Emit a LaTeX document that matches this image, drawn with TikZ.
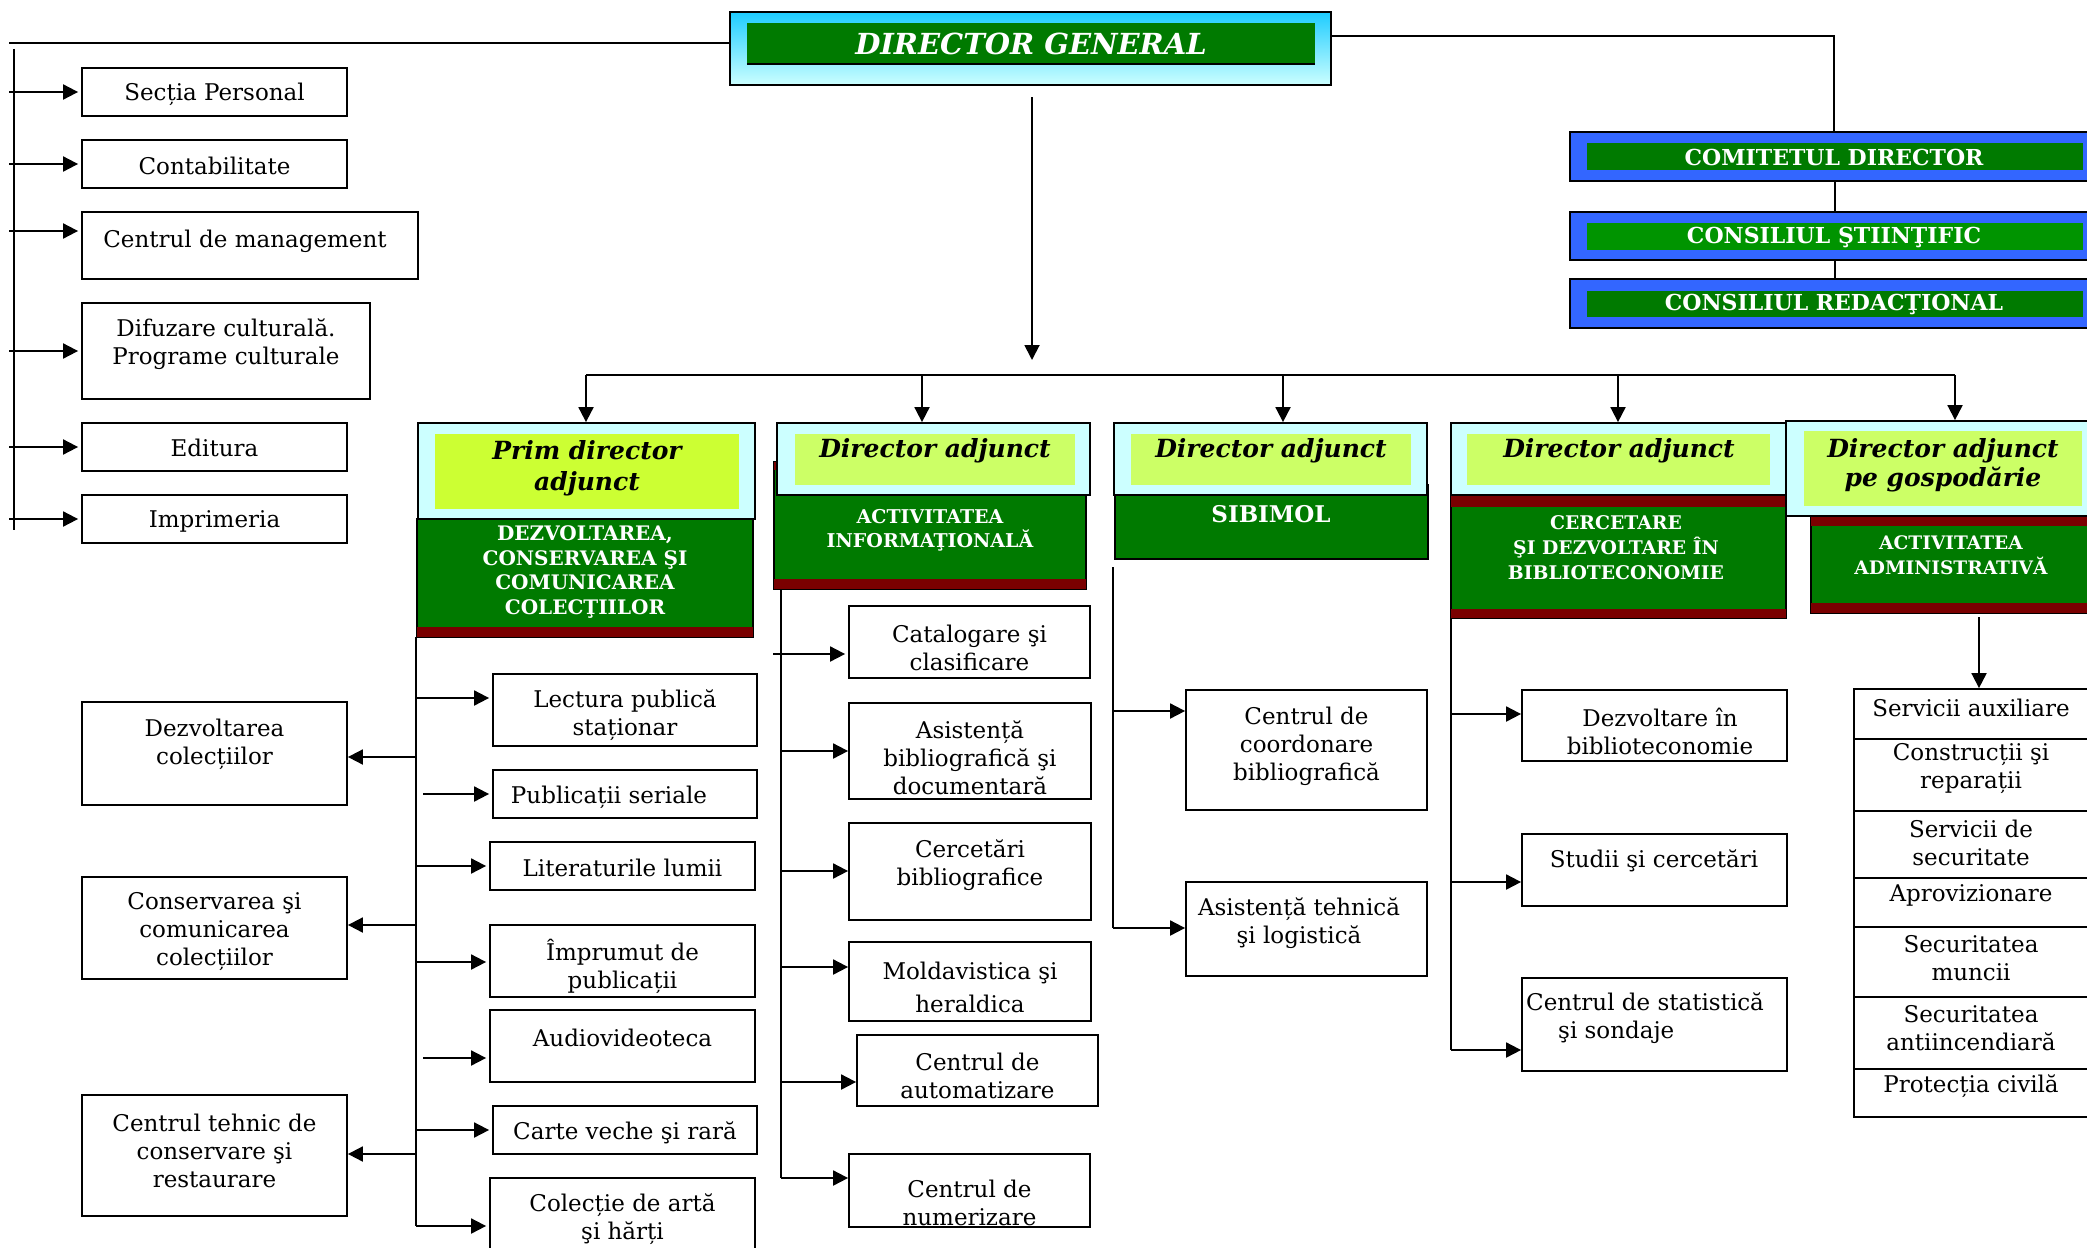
\documentclass[tikz,border=0pt]{standalone}
\usepackage{fontspec}
\setmainfont{DejaVu Serif}
\usetikzlibrary{arrows.meta,calc}
\definecolor{dgreen}{HTML}{007A00}
\definecolor{sgreen}{HTML}{009400}
\definecolor{dred}{HTML}{7A0000}
\definecolor{lcyan}{HTML}{CCFFFF}
\definecolor{dcyan}{HTML}{1ECCFF}
\definecolor{limeb}{HTML}{CCFF66}
\definecolor{limey}{HTML}{CCFF33}
\definecolor{cblue}{HTML}{3366FF}
\tikzset{
  bx/.style={draw=black, line width=1.8pt, fill=white, inner sep=0pt},
  cyanbox/.style={draw=black, line width=1.8pt, fill=lcyan, inner sep=0pt},
  limebox/.style={fill=limeb, inner sep=0pt},
  ylimebox/.style={fill=limey, inner sep=0pt},
  greenbox/.style={draw=black, line width=1.8pt, fill=dgreen, inner sep=0pt},
  bluebox/.style={draw=black, line width=1.8pt, fill=cblue, inner sep=0pt},
  innergreen/.style={fill=dgreen, inner sep=0pt},
  innersgreen/.style={fill=sgreen, inner sep=0pt},
  dgbox/.style={draw=black, line width=1.8pt, top color=dcyan, bottom color=lcyan, inner sep=0pt},
  txt/.style={inner sep=0pt, align=center, font=\fontsize{23}{28}\selectfont},
  htxt/.style={inner sep=0pt, align=center, font=\fontsize{25}{31}\selectfont\bfseries\itshape},
  wtxt/.style={inner sep=0pt, align=center, text=white, font=\fontsize{20}{24.7}\selectfont\bfseries},
  ctxt/.style={inner sep=0pt, align=center, text=white, font=\fontsize{22}{26}\selectfont\bfseries},
  ln/.style={line width=1.9pt},
  arr/.style={line width=1.9pt, -{Triangle[length=15pt,width=15pt]}, shorten >=3pt},
}
\newcommand\mkbox[6]{\node[#1, minimum width={#5-#3}, minimum height={#6-#4}] (#2) at ({(#3+#5)/2},{(#4+#6)/2}) {};}
\begin{document}
\begin{tikzpicture}[x=1pt,y=-1pt]
\useasboundingbox (0,0) rectangle (2087,1247);
\fill[white] (0,0) rectangle (2087,1247);
\begin{scope}
\clip (0,0) rectangle (2087,1247);

% ---------- Director general ----------
\mkbox{dgbox}{dg}{730}{12}{1331}{85}
\mkbox{innergreen}{dgi}{747}{23}{1315}{64}
\draw[line width=2pt] (dgi.south west) -- (dgi.south east);
\node[inner sep=0pt, text=white, font=\fontsize{29}{34}\selectfont\bfseries\itshape] (dgT) at (1031,44) {DIRECTOR GENERAL};

% ---------- Councils ----------
\mkbox{bluebox}{cd}{1570}{132}{2100}{181}
\mkbox{innergreen}{cdi}{1587}{143}{2083}{170}
\node[ctxt] (cdT) at (1834,157) {COMITETUL DIRECTOR};
\mkbox{bluebox}{cs}{1570}{212}{2100}{260}
\mkbox{innersgreen}{csi}{1587}{223}{2083}{250}
\node[ctxt] (csT) at (1834,237) {CONSILIUL ŞTIINŢIFIC};
\mkbox{bluebox}{cr}{1570}{279}{2100}{328}
\mkbox{innergreen}{cri}{1587}{291}{2083}{317}
\node[ctxt] (crT) at (1834,304) {CONSILIUL REDACŢIONAL};

\coordinate (rt) at (1834,36);
\draw[ln] (dg.east |- rt) -- (rt) -- (rt |- cd.north);
\draw[ln] (cd.south) -- (cs.north);
\draw[ln] (cs.south) -- (cr.north);

% ---------- Left staff column ----------
\mkbox{bx}{sp}{82}{68}{347}{116}
\node[txt] (spT) at (214.5,94) {Secția Personal};
\mkbox{bx}{cont}{82}{140}{347}{188}
\node[txt] (contT) at (214.5,166) {Contabilitate};
\mkbox{bx}{cman}{82}{212}{418}{279}
\node[txt] (cmanT) at (245,241) {Centrul de management};
\mkbox{bx}{dif}{82}{303}{370}{399}
\node[txt] (difT) at (226,344) {Difuzare culturală.\\Programe culturale};
\mkbox{bx}{edit}{82}{423}{347}{471}
\node[txt] (editT) at (214.5,448) {Editura};
\mkbox{bx}{impr}{82}{495}{347}{543}
\node[txt] (imprT) at (214.5,521) {Imprimeria};

\coordinate (lt) at (9,43);
\draw[ln] (lt) -- (dg.west |- lt);
\coordinate (lv1) at (14,49);
\coordinate (lv2) at (14,530);
\draw[ln] (lv1) -- (lv2);
\draw[arr] (lt |- sp.west) -- (sp.west);
\draw[arr] (lt |- cont.west) -- (cont.west);
\draw[arr] (lt |- 0,231) -- (cman.west |- 0,231);
\draw[arr] (lt |- dif.west) -- (dif.west);
\draw[arr] (lt |- edit.west) -- (edit.west);
\draw[arr] (lt |- impr.west) -- (impr.west);

% ---------- Green department boxes (behind) ----------
\mkbox{greenbox}{g1}{417}{519}{753}{637}
\fill[dred] ([xshift=0.9pt,yshift=0.9pt]g1.south west) rectangle ([xshift=-0.9pt,yshift=11pt]g1.south east);
\node[wtxt] (g1T) at (585,572) {DEZVOLTAREA,\\CONSERVAREA ŞI\\COMUNICAREA\\COLECŢIILOR};

\mkbox{greenbox}{g2}{774}{462}{1086}{589}
\fill[dred] ([xshift=0.9pt,yshift=0.9pt]g2.south west) rectangle ([xshift=-0.9pt,yshift=11pt]g2.south east);
\fill[dred] ([xshift=0.9pt,yshift=-0.9pt]g2.north west) rectangle ([xshift=-0.9pt,yshift=-9pt]g2.north east);
\node[wtxt, font=\fontsize{19}{24}\selectfont\bfseries] (g2T) at (930,530) {ACTIVITATEA\\INFORMAŢIONALĂ};

\mkbox{greenbox}{g3}{1115}{485}{1428}{559}
\node[wtxt, font=\fontsize{23}{27}\selectfont\bfseries] (g3T) at (1271,514) {SIBIMOL};

\mkbox{greenbox}{g4}{1451}{495}{1786}{618}
\fill[dred] ([xshift=0.9pt,yshift=0.9pt]g4.south west) rectangle ([xshift=-0.9pt,yshift=10pt]g4.south east);
\fill[dred] ([xshift=0.9pt,yshift=-0.9pt]g4.north west) rectangle ([xshift=-0.9pt,yshift=-13pt]g4.north east);
\node[wtxt, font=\fontsize{18.8}{25}\selectfont\bfseries] (g4T) at (1616,548) {CERCETARE\\ŞI DEZVOLTARE ÎN\\BIBLIOTECONOMIE};

\mkbox{greenbox}{g5}{1811}{516}{2100}{613}
\fill[dred] ([xshift=0.9pt,yshift=0.9pt]g5.south west) rectangle ([xshift=-0.9pt,yshift=11pt]g5.south east);
\fill[dred] ([xshift=0.9pt,yshift=-0.9pt]g5.north west) rectangle ([xshift=-0.9pt,yshift=-11pt]g5.north east);
\node[wtxt, font=\fontsize{18.6}{25}\selectfont\bfseries] (g5T) at (1951,555) {ACTIVITATEA\\ADMINISTRATIVĂ};

% ---------- Deputy director boxes ----------
\mkbox{cyanbox}{pda}{418}{423}{755}{519}
\mkbox{ylimebox}{pdai}{435}{434}{739}{509}
\node[htxt] (pdaT) at (587,468) {Prim director\\adjunct};

\mkbox{cyanbox}{da2}{777}{423}{1090}{495}
\mkbox{limebox}{da2i}{795}{434}{1075}{485}
\node[htxt] (da2T) at (935,451) {Director adjunct};

\mkbox{cyanbox}{da3}{1114}{423}{1427}{495}
\mkbox{limebox}{da3i}{1131}{434}{1411}{485}
\node[htxt] (da3T) at (1271,451) {Director adjunct};

\mkbox{cyanbox}{da4}{1451}{423}{1786}{495}
\mkbox{limebox}{da4i}{1467}{434}{1770}{485}
\node[htxt] (da4T) at (1619,451) {Director adjunct};

\mkbox{cyanbox}{da5}{1786}{421}{2100}{516}
\mkbox{limebox}{da5i}{1804}{431}{2082}{506}
\node[htxt, font=\fontsize{25}{29}\selectfont\bfseries\itshape] (da5T) at (1943,465) {Director adjunct\\pe gospodărie};

% ---------- DG to deputies ----------
\coordinate (dd1) at (1032,97);
\coordinate (dd2) at (1032,363);
\draw[arr] (dd1) -- (dd2);
\coordinate (b1) at (586,375);
\coordinate (b2) at (922,375);
\coordinate (b3) at (1283,375);
\coordinate (b4) at (1618,375);
\coordinate (b5) at (1955,375);
\draw[ln] (b1) -- (b5);
\draw[arr, shorten >=0pt] (b1) -- (b1 |- pda.north);
\draw[arr, shorten >=0pt] (b2) -- (b2 |- da2.north);
\draw[arr, shorten >=0pt] (b3) -- (b3 |- da3.north);
\draw[arr, shorten >=0pt] (b4) -- (b4 |- da4.north);
\draw[arr, shorten >=0pt] (b5) -- (b5 |- da5.north);

% ---------- Column 1 ----------
\mkbox{bx}{dezv}{82}{702}{347}{805}
\node[txt] (dezvT) at (214.5,744) {Dezvoltarea\\colecțiilor};
\mkbox{bx}{cons}{82}{877}{347}{979}
\node[txt] (consT) at (214.5,932) {Conservarea şi\\comunicarea\\colecțiilor};
\mkbox{bx}{ctr}{82}{1095}{347}{1216}
\node[txt] (ctrT) at (214.5,1151) {Centrul tehnic de\\conservare şi\\restaurare};

\mkbox{bx}{lect}{493}{674}{757}{746}
\node[txt] (lectT) at (625,715) {Lectura publică\\staționar};
\mkbox{bx}{pser}{493}{770}{757}{818}
\node[txt] (pserT) at (609,797) {Publicații seriale};
\mkbox{bx}{lit}{490}{842}{755}{890}
\node[txt] (litT) at (622.5,868) {Literaturile lumii};
\mkbox{bx}{impm}{490}{925}{755}{997}
\node[txt] (impmT) at (622.5,966) {Împrumut de\\publicații};
\mkbox{bx}{audio}{490}{1010}{755}{1082}
\node[txt] (audioT) at (622.5,1038) {Audiovideoteca};
\mkbox{bx}{carte}{493}{1106}{757}{1154}
\node[txt] (carteT) at (625,1133) {Carte veche şi rară};
\mkbox{bx}{colec}{490}{1178}{755}{1275}
\node[txt] (colecT) at (622.5,1219) {Colecție de artă\\şi hărți};

\coordinate (c1t) at (416,637);
\coordinate (c1b) at (416,1226);
\coordinate (c1s) at (423,0);
\draw[ln] (c1t) -- (c1b);
\draw[arr] (c1t |- 0,698) -- (lect.west |- 0,698);
\draw[arr] (c1s |- 0,794) -- (pser.west |- 0,794);
\draw[arr] (c1t |- 0,866) -- (lit.west |- 0,866);
\draw[arr] (c1t |- 0,962) -- (impm.west |- 0,962);
\draw[arr] (c1s |- 0,1058) -- (audio.west |- 0,1058);
\draw[arr] (c1t |- 0,1130) -- (carte.west |- 0,1130);
\draw[arr] (c1b) -- (colec.west |- c1b);
\draw[arr, shorten >=0pt] (c1t |- 0,757) -- (dezv.east |- 0,757);
\draw[arr, shorten >=0pt] (c1t |- 0,925) -- (cons.east |- 0,925);
\draw[arr, shorten >=0pt] (c1t |- 0,1154) -- (ctr.east |- 0,1154);

% ---------- Column 2 ----------
\mkbox{bx}{cat}{849}{606}{1090}{678}
\node[txt] (catT) at (969.5,648) {Catalogare şi\\clasificare};
\mkbox{bx}{asis}{849}{703}{1091}{799}
\node[txt] (asisT) at (970,758) {Asistență\\bibliografică şi\\documentară};
\mkbox{bx}{cerc}{849}{823}{1091}{920}
\node[txt] (cercT) at (970,865) {Cercetări\\bibliografice};
\mkbox{bx}{mold}{849}{942}{1091}{1021}
\node[txt] (moldT) at (970,987) {Moldavistica şi\\[5pt]heraldica};
\mkbox{bx}{auto}{857}{1035}{1098}{1106}
\node[txt] (autoT) at (977.5,1076) {Centrul de\\automatizare};
\mkbox{bx}{num}{849}{1154}{1090}{1227}
\node[txt] (numT) at (969.5,1203) {Centrul de\\numerizare};

\coordinate (c2t) at (781,589);
\coordinate (c2b) at (781,1178);
\coordinate (c2s) at (773,0);
\draw[ln] (c2t) -- (c2b);
\draw[arr] (c2s |- 0,654) -- (cat.west |- 0,654);
\draw[arr, shorten >=0pt] (c2t |- 0,751) -- (asis.west |- 0,751);
\draw[arr, shorten >=0pt] (c2t |- 0,871) -- (cerc.west |- 0,871);
\draw[arr, shorten >=0pt] (c2t |- 0,967) -- (mold.west |- 0,967);
\draw[arr, shorten >=0pt] (c2t |- 0,1082) -- (auto.west |- 0,1082);
\draw[arr, shorten >=0pt] (c2b) -- (num.west |- c2b);

% ---------- Column 3 ----------
\mkbox{bx}{coord}{1186}{690}{1427}{810}
\node[txt] (coordT) at (1306.5,746) {Centrul de\\coordonare\\bibliografică};
\mkbox{bx}{tehn}{1186}{882}{1427}{976}
\node[txt] (tehnT) at (1299,923) {Asistență tehnică\\şi logistică};

\coordinate (c3t) at (1113,567);
\coordinate (c3b) at (1113,928);
\draw[ln] (c3t) -- (c3b);
\draw[arr, shorten >=0pt] (c3t |- 0,711) -- (coord.west |- 0,711);
\draw[arr, shorten >=0pt] (c3b) -- (tehn.west |- c3b);

% ---------- Column 4 ----------
\mkbox{bx}{dzb}{1522}{690}{1787}{761}
\node[txt] (dzbT) at (1660,731) {Dezvoltare în\\biblioteconomie};
\mkbox{bx}{stud}{1522}{834}{1787}{906}
\node[txt] (studT) at (1654,861) {Studii şi cercetări};
\mkbox{bx}{stat}{1522}{978}{1787}{1071}
\node[txt, align=left, anchor=west] (statT) at (1526,1018) {Centrul de statistică\\\hspace*{32pt}şi sondaje};

\coordinate (c4t) at (1451,618);
\coordinate (c4b) at (1451,1050);
\draw[ln] (c4t) -- (c4b);
\draw[arr, shorten >=0pt] (c4t |- 0,714) -- (dzb.west |- 0,714);
\draw[arr, shorten >=0pt] (c4t |- 0,882) -- (stud.west |- 0,882);
\draw[arr, shorten >=0pt] (c4b) -- (stat.west |- c4b);

% ---------- Column 5 ----------
\mkbox{bx}{sa}{1854}{689}{2100}{739}
\node[txt] (saT) at (1971,708) {Servicii auxiliare};
\mkbox{bx}{sb}{1854}{739}{2100}{811}
\node[txt] (sbT) at (1971,769) {Construcții şi\\reparații};
\mkbox{bx}{sc}{1854}{811}{2100}{878}
\node[txt] (scT) at (1971,843) {Servicii de\\securitate};
\mkbox{bx}{sd}{1854}{878}{2100}{927}
\node[txt] (sdT) at (1971,895) {Aprovizionare};
\mkbox{bx}{se}{1854}{927}{2100}{997}
\node[txt] (seT) at (1971,958) {Securitatea\\muncii};
\mkbox{bx}{sf}{1854}{997}{2100}{1069}
\node[txt] (sfT) at (1971,1028) {Securitatea\\antiincendiară};
\mkbox{bx}{sg}{1854}{1069}{2100}{1117}
\node[txt] (sgT) at (1971,1086) {Protecția civilă};

\coordinate (c5t) at (1979,617);
\draw[arr, shorten >=0pt] (c5t) -- (c5t |- sa.north);

\end{scope}
\end{tikzpicture}
\end{document}
